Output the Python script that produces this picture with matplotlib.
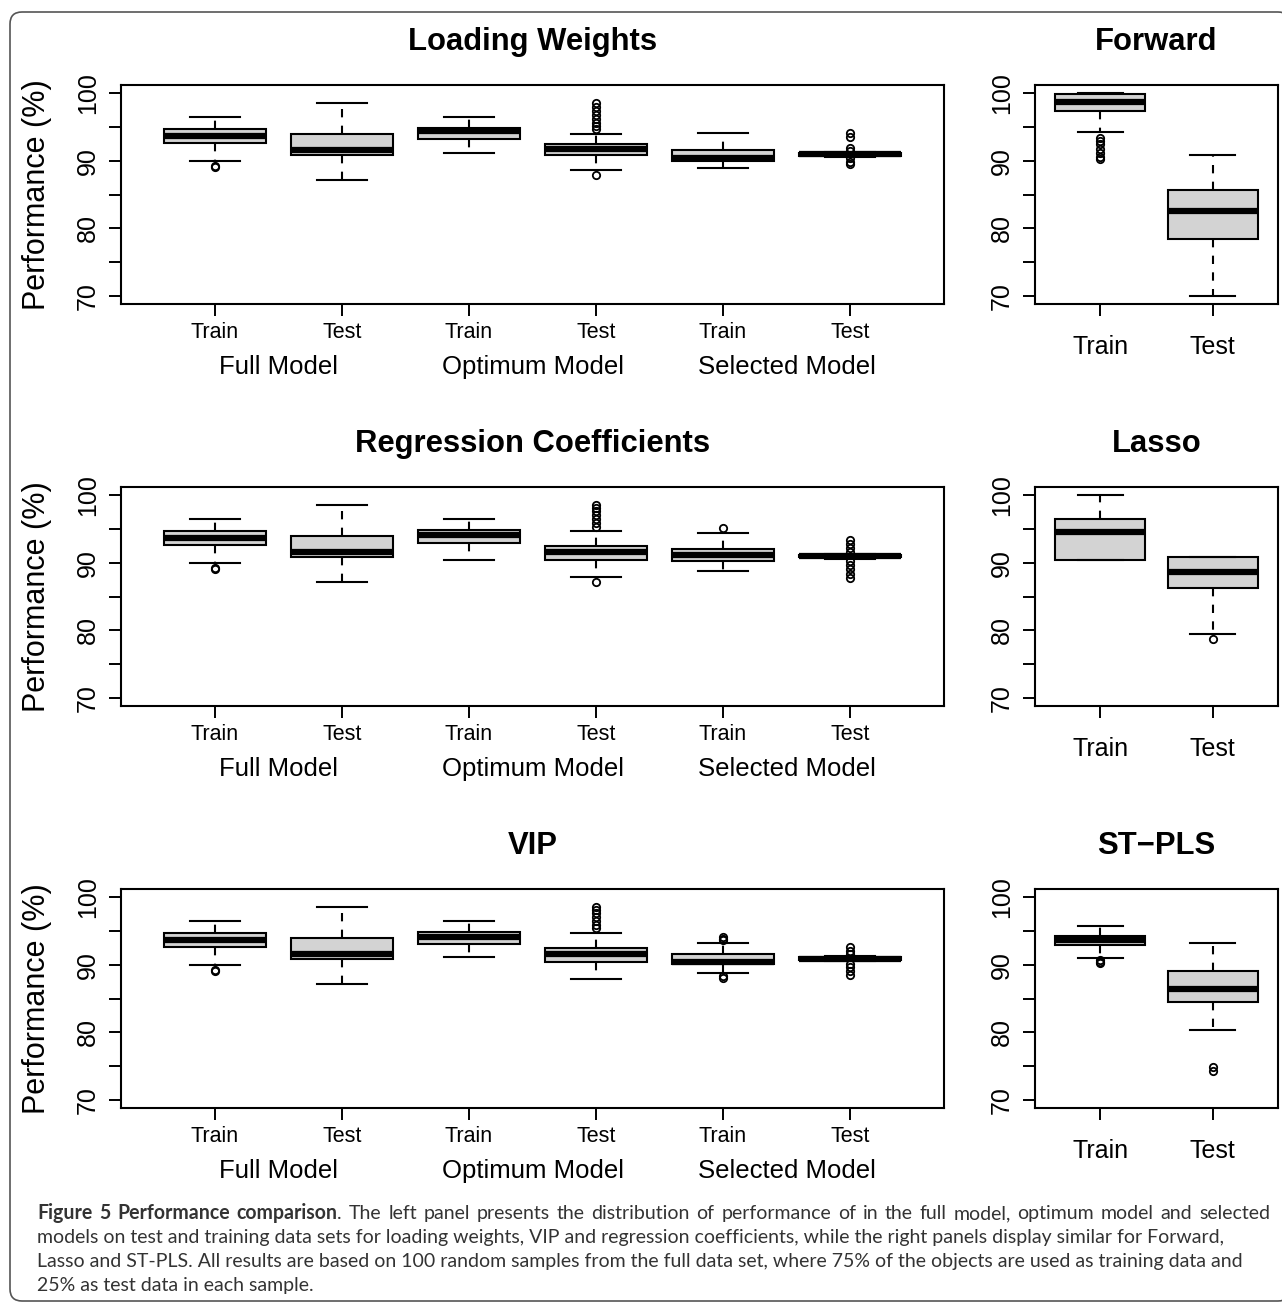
import matplotlib
matplotlib.use("Agg")
import matplotlib.pyplot as plt
from matplotlib.patches import FancyBboxPatch

# --- data (box statistics, %) ---
left_ticks = ["Train", "Test", "Train", "Test", "Train", "Test"]
left_groups = ["Full Model", "Optimum Model", "Selected Model"]
right_ticks = ["Train", "Test"]

# Loading Weights
lw_q1 = [92.6, 90.9, 93.2, 90.9, 90.0, 90.75]
lw_med = [93.7, 91.65, 94.35, 91.7, 90.45, 90.95]
lw_q3 = [94.65, 94.0, 94.85, 92.45, 91.65, 91.15]
lw_lo = [90.0, 87.1, 91.2, 88.65, 88.85, 90.6]
lw_hi = [96.45, 98.5, 96.45, 94.0, 94.05, 91.3]
lw_fliers = [[89.25, 89.0], [], [],
             [98.6, 98.0, 97.4, 96.8, 96.2, 95.6, 95.1, 94.7, 87.85], [],
             [94.05, 93.45, 91.85, 91.4, 90.35, 89.85, 89.45]]

# Forward
fw_q1 = [97.3, 78.45]
fw_med = [98.7, 82.6]
fw_q3 = [99.8, 85.6]
fw_lo = [94.3, 70.0]
fw_hi = [100.0, 90.9]
fw_fliers = [[93.3, 92.9, 92.5, 91.8, 91.2, 90.6, 90.3], []]

# Regression Coefficients
rc_q1 = [92.55, 90.9, 92.95, 90.45, 90.3, 90.8]
rc_med = [93.65, 91.65, 94.1, 91.55, 91.2, 90.95]
rc_q3 = [94.65, 93.95, 94.85, 92.4, 92.0, 91.1]
rc_lo = [90.0, 87.1, 90.35, 87.85, 88.75, 90.6]
rc_hi = [96.4, 98.5, 96.4, 94.7, 94.4, 91.3]
rc_fliers = [[89.2, 89.0], [], [],
             [98.6, 98.1, 97.6, 97.0, 96.5, 95.9, 95.3, 87.1], [95.2],
             [93.35, 92.75, 92.15, 91.6, 90.2, 89.6, 89.0, 88.4, 87.8]]

# Lasso
la_q1 = [90.4, 86.3]
la_med = [94.6, 88.6]
la_q3 = [96.5, 90.9]
la_lo = [90.4, 79.5]
la_hi = [100.0, 90.9]
la_fliers = [[], [78.7]]

# VIP
vip_q1 = [92.55, 90.85, 93.1, 90.45, 90.1, 90.75]
vip_med = [93.6, 91.65, 94.15, 91.6, 90.45, 90.9]
vip_q3 = [94.65, 93.95, 94.8, 92.45, 91.6, 91.1]
vip_lo = [90.0, 87.1, 91.2, 87.85, 88.8, 90.55]
vip_hi = [96.4, 98.5, 96.4, 94.7, 93.2, 91.3]
vip_fliers = [[89.2, 89.0], [], [],
              [98.6, 98.1, 97.6, 97.0, 96.4, 95.9, 95.4],
              [94.1, 93.85, 93.6, 88.3, 88.0],
              [92.6, 92.1, 91.6, 90.15, 89.65, 89.1, 88.5]]

# ST-PLS
st_q1 = [92.9, 84.45]
st_med = [93.6, 86.4]
st_q3 = [94.3, 89.0]
st_lo = [91.05, 80.3]
st_hi = [95.8, 93.2]
st_fliers = [[90.65, 90.4, 90.2], [74.9, 74.3]]

caption_bold = "Figure 5 Performance comparison"
caption_lines = [
    ". The left panel presents the distribution of performance of in the full model, optimum model and selected",
    "models on test and training data sets for loading weights, VIP and regression coefficients, while the right panels display similar for Forward,",
    "Lasso and ST-PLS. All results are based on 100 random samples from the full data set, where 75% of the objects are used as training data and",
    "25% as test data in each sample.",
]

W, H, DPI = 1282, 1304, 100
PT = 72 / DPI  # pixels -> points

plt.rcParams['font.family'] = ['Liberation Sans', 'DejaVu Sans']


def make_stats(q1, med, q3, lo, hi, fliers):
    return [dict(q1=a, med=b, q3=c, whislo=d, whishi=e, fliers=f)
            for a, b, c, d, e, f in zip(q1, med, q3, lo, hi, fliers)]


def px_axes(fig, x0, y0, x1, y1):
    return fig.add_axes([x0 / W, 1 - y1 / H, (x1 - x0) / W, (y1 - y0) / H])


def draw_panel(ax, stats, ticks, title, xfs, xpad):
    n = len(stats)
    pos = list(range(1, n + 1))
    ax.bxp(stats, positions=pos, widths=0.8, capwidths=0.4, patch_artist=True,
           manage_ticks=False,
           boxprops=dict(facecolor='#d3d3d3', edgecolor='black', linewidth=1.5),
           medianprops=dict(color='black', linewidth=4.5, solid_capstyle='butt'),
           whiskerprops=dict(color='black', linewidth=1.5, linestyle=(0, (4, 4))),
           capprops=dict(color='black', linewidth=1.5),
           flierprops=dict(marker='o', markerfacecolor='none', markeredgecolor='black',
                           markersize=5.3, markeredgewidth=1.3))
    ext = 0.04 * n
    ax.set_xlim(0.5 - ext, n + 0.5 + ext)
    ax.set_ylim(68.8, 101.2)
    ax.set_xticks(pos)
    ax.set_xticklabels(ticks, fontsize=xfs)
    ax.set_yticks([70, 75, 80, 85, 90, 95, 100])
    ax.set_yticklabels(['70', '', '80', '', '90', '', '100'], fontsize=18,
                       rotation=90, va='center')
    ax.tick_params(axis='both', direction='out', length=12 * PT, width=1.4)
    ax.tick_params(axis='x', pad=xpad)
    ax.tick_params(axis='y', pad=6.5)
    for s in ax.spines.values():
        s.set_linewidth(1.5)
    ax.set_title(title, fontsize=22.3, fontweight='bold', pad=35 * PT)


fig = plt.figure(figsize=(W / DPI, H / DPI), dpi=DPI)
bg = fig.add_axes([0, 0, 1, 1])
bg.set_xlim(0, W)
bg.set_ylim(H, 0)
bg.axis('off')
bg.add_patch(FancyBboxPatch((10, 12), 1290 - 10, 1301 - 12,
                            boxstyle='round,pad=0,rounding_size=12',
                            facecolor='white', edgecolor='#555555', linewidth=1.2))

rows = [(85, 304), (487, 706), (889, 1108)]
left_data = [("Loading Weights", make_stats(lw_q1, lw_med, lw_q3, lw_lo, lw_hi, lw_fliers)),
             ("Regression Coefficients", make_stats(rc_q1, rc_med, rc_q3, rc_lo, rc_hi, rc_fliers)),
             ("VIP", make_stats(vip_q1, vip_med, vip_q3, vip_lo, vip_hi, vip_fliers))]
right_data = [("Forward", make_stats(fw_q1, fw_med, fw_q3, fw_lo, fw_hi, fw_fliers)),
              ("Lasso", make_stats(la_q1, la_med, la_q3, la_lo, la_hi, la_fliers)),
              ("ST\u2212PLS", make_stats(st_q1, st_med, st_q3, st_lo, st_hi, st_fliers))]

for (y0, y1), (lt, ls), (rt, rs) in zip(rows, left_data, right_data):
    axl = px_axes(fig, 121, y0, 944, y1)
    draw_panel(axl, ls, left_ticks, lt, 15.5, 4)
    for i, g in enumerate(left_groups):
        axl.annotate(g, xy=(1.5 + 2 * i, 0), xycoords=('data', 'axes fraction'),
                     xytext=(0, -70 * PT), textcoords='offset points',
                     ha='center', va='baseline', fontsize=18.5)
    bg.text(37, (y0 + y1) / 2, "Performance (%)", rotation=90, ha='center',
            va='center', fontsize=22)

    axr = px_axes(fig, 1035, y0, 1278, y1)
    draw_panel(axr, rs, right_ticks, rt, 18, 13.5)

# caption
cap_font = ['Lato', 'DejaVu Sans']
cap_color = '#333333'
x0 = 37
baselines = [1219, 1243, 1267, 1291]
renderer = fig.canvas.get_renderer()

# font size chosen so the third line ends where it does in the original
probe = bg.text(x0, baselines[2], caption_lines[2], fontsize=13, family=cap_font)
fs = 13 * (1242 - x0) / probe.get_window_extent(renderer).width
probe.remove()

for b, s in zip(baselines[1:], caption_lines[1:]):
    bg.text(x0, b, s, fontsize=fs, family=cap_font, color=cap_color, va='baseline')

# first line is justified to the full width in the original
tokens = [(w, 'bold') for w in caption_bold.split()] + \
         [(w, 'normal') for w in caption_lines[0].split()]
arts = [bg.text(x0, baselines[0], w, fontsize=fs, fontweight=wt, family=cap_font,
                color=cap_color, va='baseline') for w, wt in tokens]
widths = [a.get_window_extent(renderer).width for a in arts]
glue = [w != '.' for w, _ in tokens[1:]]
gap = (1270 - x0 - sum(widths)) / sum(glue)
x = x0
for i, a in enumerate(arts):
    if i > 0 and glue[i - 1]:
        x += gap
    a.set_x(x)
    x += widths[i]

fig.savefig("out.png", dpi=DPI)
